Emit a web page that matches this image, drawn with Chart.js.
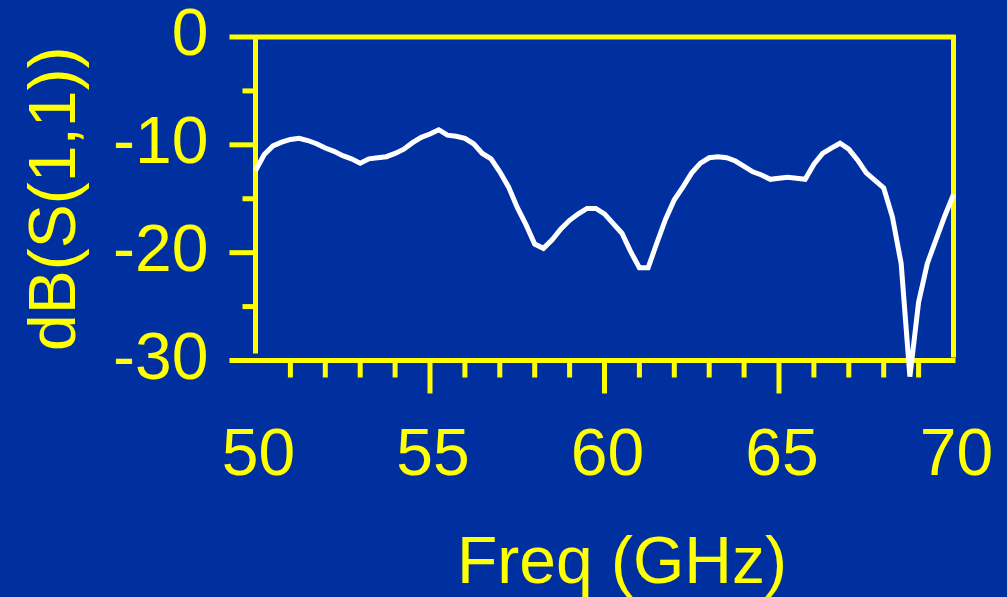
<!DOCTYPE html>
<html>
<head>
<meta charset="utf-8">
<script src="https://cdn.jsdelivr.net/npm/chart.js@4/dist/chart.umd.min.js"></script>
<style>
  html, body { margin: 0; padding: 0; background: #0030a0; }
  #wrap { width: 1007px; height: 597px; position: relative; }
</style>
</head>
<body>
<div id="wrap"><canvas id="c" width="1007" height="597"></canvas></div>
<script>
// Return loss of the antenna, 50–70 GHz, sampled every 0.25 GHz
const freqGHz = [
  50.00, 50.25, 50.50, 50.75, 51.00, 51.25, 51.50, 51.75,
  52.00, 52.25, 52.50, 52.75, 53.00, 53.25, 53.50, 53.75,
  54.00, 54.25, 54.50, 54.75, 55.00, 55.25, 55.50, 55.75,
  56.00, 56.25, 56.50, 56.75, 57.00, 57.25, 57.50, 57.75,
  58.00, 58.25, 58.50, 58.75, 59.00, 59.25, 59.50, 59.75,
  60.00, 60.25, 60.50, 60.75, 61.00, 61.25, 61.50, 61.75,
  62.00, 62.25, 62.50, 62.75, 63.00, 63.25, 63.50, 63.75,
  64.00, 64.25, 64.50, 64.75, 65.00, 65.25, 65.50, 65.75,
  66.00, 66.25, 66.50, 66.75, 67.00, 67.25, 67.50, 67.75,
  68.00, 68.25, 68.50, 68.75, 69.00, 69.25, 69.50, 69.75,
  70.00
];
const s11dB = [
  -12.4, -10.9, -10.1, -9.75, -9.5, -9.4, -9.6, -9.9,
  -10.3, -10.6, -11.0, -11.3, -11.7, -11.3, -11.2, -11.1,
  -10.8, -10.4, -9.8, -9.3, -9.0, -8.6, -9.1, -9.2,
  -9.4, -9.9, -10.8, -11.3, -12.5, -13.9, -15.8, -17.4,
  -19.2, -19.6, -18.8, -17.8, -17.0, -16.4, -15.9, -15.9,
  -16.4, -17.3, -18.2, -19.9, -21.4, -21.4, -19.1, -16.9,
  -15.1, -13.9, -12.6, -11.7, -11.2, -11.1, -11.2, -11.5,
  -12.0, -12.5, -12.8, -13.2, -13.1, -13.0, -13.1, -13.2,
  -11.8, -10.8, -10.3, -9.85, -10.4, -11.4, -12.6, -13.3,
  -14.0, -16.7, -21.0, -31.5, -24.6, -21.0, -18.8, -16.6,
  -14.6
];

// Axis labels
const xTickLabels = [50, 55, 60, 65, 70];
const yTickLabels = [0, -10, -20, -30];
const xMinorTicks = [51, 52, 53, 54, 56, 57, 58, 59, 61, 62, 63, 64, 66, 67, 68, 69];
const xMajorTicks = [55, 60, 65];
const yMinorTicks = [-5, -15, -25];
const xTitle = 'Freq (GHz)';
const yTitle = 'dB(S(1,1))';

const YELLOW = '#ffff00';
const FONT = '"Liberation Sans", Arial, Helvetica, sans-serif';

// Keep the plot box fixed: no extra room for overhanging tick labels
function noLabelPadding(s) {
  s.paddingTop = 0; s.paddingBottom = 0; s.paddingLeft = 0; s.paddingRight = 0;
}

// Yellow frame and tick marks, placed with the chart's own scales
const framePlugin = {
  id: 'frame',
  beforeDatasetsDraw(chart) {
    const { ctx, scales: { x, y } } = chart;
    const L = x.getPixelForValue(50), R = x.getPixelForValue(70);
    const T = y.getPixelForValue(0), B = y.getPixelForValue(-30);
    const majorOut = 26, minorOut = 13;
    ctx.save();
    ctx.strokeStyle = YELLOW;
    ctx.lineWidth = 5;
    ctx.lineCap = 'butt';
    const seg = (x1, y1, x2, y2) => { ctx.beginPath(); ctx.moveTo(x1, y1); ctx.lineTo(x2, y2); ctx.stroke(); };
    // top edge (doubles as the 0 dB tick)
    seg(L - majorOut, T, R + 2, T);
    // bottom edge (doubles as the -30 dB tick)
    seg(L - majorOut, B, R + 2, B);
    // left axis, stopping short of the bottom edge
    seg(L, T - 2, L, B - 7);
    // right edge
    seg(R, T - 2, R, B - 3);
    // y ticks
    [-10, -20].forEach(v => { const py = y.getPixelForValue(v); seg(L - majorOut, py, L, py); });
    yMinorTicks.forEach(v => { const py = y.getPixelForValue(v); seg(L - minorOut, py, L, py); });
    // x ticks below the bottom edge
    xMinorTicks.forEach(v => { const px = x.getPixelForValue(v); seg(px, B, px, B + 17); });
    xMajorTicks.forEach(v => { const px = x.getPixelForValue(v); seg(px, B, px, B + 33); });
    ctx.restore();
  },
  // x-axis title, set a little right of the plot centre
  afterDraw(chart) {
    const { ctx, scales: { x } } = chart;
    ctx.save();
    ctx.fillStyle = YELLOW;
    ctx.font = '66px ' + FONT;
    ctx.textAlign = 'center';
    ctx.textBaseline = 'alphabetic';
    ctx.fillText(xTitle, x.getPixelForValue(60.5), 583);
    ctx.restore();
  }
};

new Chart(document.getElementById('c'), {
  type: 'line',
  data: {
    datasets: [{
      data: freqGHz.map((f, i) => ({ x: f, y: s11dB[i] })),
      borderColor: '#ffffff',
      borderWidth: 5,
      pointRadius: 0,
      tension: 0,
      clip: false
    }]
  },
  options: {
    responsive: false,
    animation: false,
    devicePixelRatio: 1,
    layout: { padding: { top: 37, right: 53.5, bottom: 0, left: 0 } },
    plugins: { legend: { display: false }, tooltip: { enabled: false } },
    scales: {
      x: {
        type: 'linear',
        min: 50, max: 70,
        afterBuildTicks: s => { s.ticks = xTickLabels.map(v => ({ value: v })); },
        afterFit: s => { s.height = 236.5; noLabelPadding(s); },
        grid: { display: false, drawTicks: false },
        border: { display: false },
        ticks: {
          color: YELLOW, autoSkip: false, maxRotation: 0, padding: 57, labelOffset: 3,
          font: { family: FONT, size: 66, lineHeight: 1.2 }
        },
        title: { display: false }
      },
      y: {
        type: 'linear',
        min: -30, max: 0,
        afterBuildTicks: s => { s.ticks = yTickLabels.map(v => ({ value: v })); },
        afterFit: s => { s.width = 255.5; noLabelPadding(s); },
        grid: { display: false, drawTicks: false },
        border: { display: false },
        ticks: {
          color: YELLOW, padding: 47,
          font: { family: FONT, size: 66, lineHeight: 1 }
        },
        title: {
          display: true, text: yTitle, color: YELLOW,
          font: { family: FONT, size: 66, lineHeight: 1 },
          padding: { top: 24, bottom: 0 }
        }
      }
    }
  },
  plugins: [framePlugin]
});
</script>
</body>
</html>
